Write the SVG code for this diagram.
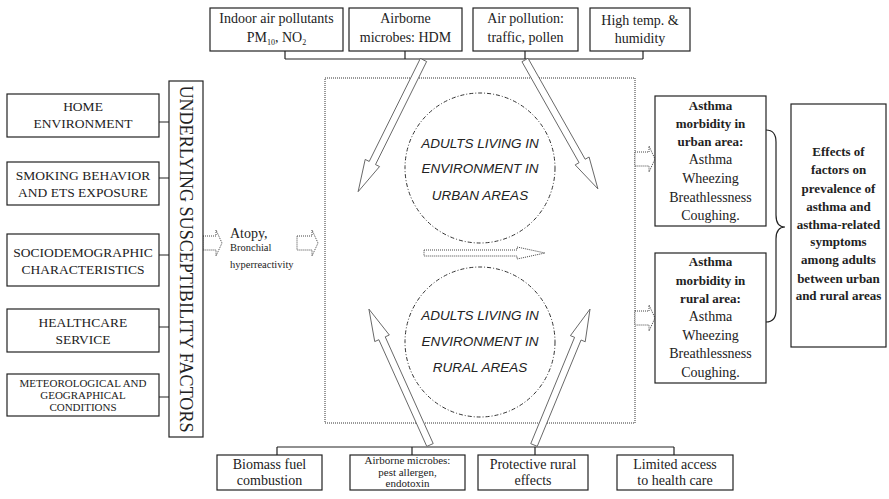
<svg xmlns="http://www.w3.org/2000/svg" width="889" height="499" viewBox="0 0 889 499">
<defs>
<style>
.box{fill:#fff;stroke:#222;stroke-width:1.2}
.t{font-family:"Liberation Serif","Times New Roman",serif;font-size:14px;fill:#222;text-anchor:middle}
.cap{font-family:"Liberation Serif","Times New Roman",serif;font-size:13.5px;fill:#222;text-anchor:middle}
.sm{font-size:11px}
.b{font-weight:bold;font-size:13px}
.it{font-family:"Liberation Sans",Arial,sans-serif;font-style:italic;font-size:13.5px;fill:#222;text-anchor:middle}
.ln{fill:none;stroke:#222;stroke-width:1.2}
.dot{fill:#fff;stroke:#444;stroke-width:1;stroke-dasharray:1,1}
.arr{fill:#fff;stroke:#555;stroke-width:0.8}
.circ{fill:none;stroke:#333;stroke-width:1;stroke-dasharray:4,2,1,2}
</style>
</defs>
<rect width="889" height="499" fill="#fff"/>

<!-- main dotted frame -->
<rect x="325" y="78" width="310" height="345" fill="none" stroke="#333" stroke-width="1" stroke-dasharray="1,1"/>

<g id="connectors">
<path class="ln" d="M285,51 V59 M405,51 V59 M525,51 V59 M643,51 V59 M285,59 H643"/>
<path class="ln" d="M277,455 V447 M412,455 V447 M535,455 V447 M674,455 V447 M277,447 H674"/>
<path class="ln" d="M159,122 H169 M159,178 H169 M159,255 H169 M159,327 H169 M159,397 H169"/>
<path class="ln" d="M766,130 Q776,130 776,142 L776,215 Q776,227 785,227 Q776,227 776,239 L776,310 Q776,322 766,322"/>
<polygon class="arr" transform="translate(423.5,60) rotate(116.4)" points="0,-3.5 115,-3.5 115,-8 147,0 115,8 115,3.5 0,3.5"/>
<polygon class="arr" transform="translate(525,60) rotate(60.5)" points="0,-3.5 116,-3.5 116,-8 148,0 116,8 116,3.5 0,3.5"/>
<polygon class="arr" transform="translate(430,445) rotate(-114.2)" points="0,-3.5 117,-3.5 117,-8 149,0 117,8 117,3.5 0,3.5"/>
<polygon class="arr" transform="translate(534,445) rotate(-67.6)" points="0,-3.5 115,-3.5 115,-8 147,0 115,8 115,3.5 0,3.5"/>
<polygon class="dot" transform="translate(424,253)" points="0,-3 93,-3 93,-6 121,0 93,6 93,3 0,3"/>
<polygon class="dot" transform="translate(203,243)" points="0,-7 13,-7 13,-13 19,0 13,13 13,7 0,7"/>
<polygon class="dot" transform="translate(297,243)" points="0,-7 15,-7 15,-13 21,0 15,13 15,7 0,7"/>
<polygon class="dot" transform="translate(635,159)" points="0,-7 14,-7 14,-13 20,0 14,13 14,7 0,7"/>
<polygon class="dot" transform="translate(635,318)" points="0,-7 14,-7 14,-13 20,0 14,13 14,7 0,7"/>
</g>

<!-- top boxes -->
<g id="top1"><rect class="box" x="210" y="8" width="133" height="43"/>
<text class="t" x="276.5" y="23">Indoor air pollutants</text>
<text class="t" x="276.5" y="42">PM<tspan font-size="8" dy="3">10</tspan><tspan dy="-3">, NO</tspan><tspan font-size="8" dy="3">2</tspan></text></g>
<g id="top2"><rect class="box" x="349" y="8" width="113" height="43"/>
<text class="t" x="405.5" y="23">Airborne</text><text class="t" x="405.5" y="42">microbes: HDM</text></g>
<g id="top3"><rect class="box" x="473" y="8" width="105" height="43"/>
<text class="t" x="525.5" y="23">Air pollution:</text><text class="t" x="525.5" y="42">traffic, pollen</text></g>
<g id="top4"><rect class="box" x="590" y="8" width="100" height="43"/>
<text class="t" x="640" y="25">High temp. &amp;</text><text class="t" x="640" y="43">humidity</text></g>

<!-- left boxes -->
<g id="home"><rect class="box" x="7" y="94" width="152" height="43"/>
<text class="cap" x="83" y="111">HOME</text><text class="cap" x="83" y="128">ENVIRONMENT</text></g>
<g id="smoking"><rect class="box" x="7" y="162" width="152" height="43"/>
<text class="cap" x="83" y="180">SMOKING BEHAVIOR</text><text class="cap" x="83" y="197">AND ETS EXPOSURE</text></g>
<g id="socio"><rect class="box" x="7" y="234" width="152" height="52"/>
<text class="cap" x="83" y="257">SOCIODEMOGRAPHIC</text><text class="cap" x="83" y="274">CHARACTERISTICS</text></g>
<g id="health"><rect class="box" x="7" y="309" width="152" height="43"/>
<text class="cap" x="83" y="327">HEALTHCARE</text><text class="cap" x="83" y="344">SERVICE</text></g>
<g id="meteo"><rect class="box" x="7" y="374" width="152" height="42"/>
<text class="cap sm" x="83" y="387">METEOROLOGICAL AND</text><text class="cap sm" x="83" y="399">GEOGRAPHICAL</text><text class="cap sm" x="83" y="411">CONDITIONS</text></g>

<g id="underlying"><rect class="box" x="169" y="81" width="34" height="356"/>
<text class="t" transform="translate(186,259) rotate(90)" x="0" y="6" textLength="347" lengthAdjust="spacingAndGlyphs" style="font-size:18px">UNDERLYING SUSCEPTIBILITY FACTORS</text></g>

<g id="atopy">
<text x="230" y="238" style="font-family:'Liberation Serif',serif;font-size:14px;fill:#222">Atopy,</text>
<text x="230" y="251" style="font-family:'Liberation Serif',serif;font-size:10.5px;fill:#222">Bronchial</text>
<text x="230" y="268" style="font-family:'Liberation Serif',serif;font-size:10.5px;fill:#222">hyperreactivity</text>
</g>

<!-- circles -->
<g id="urban"><circle class="circ" cx="480" cy="168" r="75"/>
<text class="it" x="480" y="148">ADULTS LIVING IN</text>
<text class="it" x="480" y="173">ENVIRONMENT IN</text>
<text class="it" x="480" y="200">URBAN AREAS</text></g>
<g id="rural"><circle class="circ" cx="480" cy="342" r="75"/>
<text class="it" x="480" y="320">ADULTS LIVING IN</text>
<text class="it" x="480" y="346">ENVIRONMENT IN</text>
<text class="it" x="480" y="372">RURAL AREAS</text></g>

<!-- asthma boxes -->
<g id="asthma-urban"><rect class="box" x="655" y="96" width="111" height="130"/>
<text class="t b" x="710.5" y="110">Asthma</text>
<text class="t b" x="710.5" y="128">morbidity in</text>
<text class="t b" x="710.5" y="146">urban area:</text>
<text class="t" x="710.5" y="164">Asthma</text>
<text class="t" x="710.5" y="183">Wheezing</text>
<text class="t" x="710.5" y="202">Breathlessness</text>
<text class="t" x="710.5" y="220">Coughing.</text></g>
<g id="asthma-rural"><rect class="box" x="655" y="253" width="111" height="130"/>
<text class="t b" x="710.5" y="266">Asthma</text>
<text class="t b" x="710.5" y="285">morbidity in</text>
<text class="t b" x="710.5" y="303">rural area:</text>
<text class="t" x="710.5" y="321">Asthma</text>
<text class="t" x="710.5" y="340">Wheezing</text>
<text class="t" x="710.5" y="358">Breathlessness</text>
<text class="t" x="710.5" y="377">Coughing.</text></g>

<g id="effects"><rect class="box" x="791" y="104" width="95" height="243"/>
<text class="t b" x="838.5" y="156">Effects of</text>
<text class="t b" x="838.5" y="174">factors on</text>
<text class="t b" x="838.5" y="193">prevalence of</text>
<text class="t b" x="838.5" y="211">asthma and</text>
<text class="t b" x="838.5" y="229">asthma-related</text>
<text class="t b" x="838.5" y="246">symptoms</text>
<text class="t b" x="838.5" y="264">among adults</text>
<text class="t b" x="838.5" y="283">between urban</text>
<text class="t b" x="838.5" y="300">and rural areas</text></g>

<!-- bottom boxes -->
<g id="bot1"><rect class="box" x="217" y="455" width="105" height="35"/>
<text class="t" x="269.5" y="469">Biomass fuel</text><text class="t" x="269.5" y="485">combustion</text></g>
<g id="bot2"><rect class="box" x="350" y="455" width="115" height="35"/>
<text class="t" style="font-size:11px" x="407.5" y="464">Airborne microbes:</text>
<text class="t" style="font-size:11px" x="407.5" y="475.5">pest allergen,</text>
<text class="t" style="font-size:11px" x="407.5" y="487">endotoxin</text></g>
<g id="bot3"><rect class="box" x="478" y="455" width="110" height="35"/>
<text class="t" x="533" y="469">Protective rural</text><text class="t" x="533" y="485">effects</text></g>
<g id="bot4"><rect class="box" x="617" y="455" width="116" height="35"/>
<text class="t" x="675" y="469">Limited access</text><text class="t" x="675" y="485">to health care</text></g>
</svg>
